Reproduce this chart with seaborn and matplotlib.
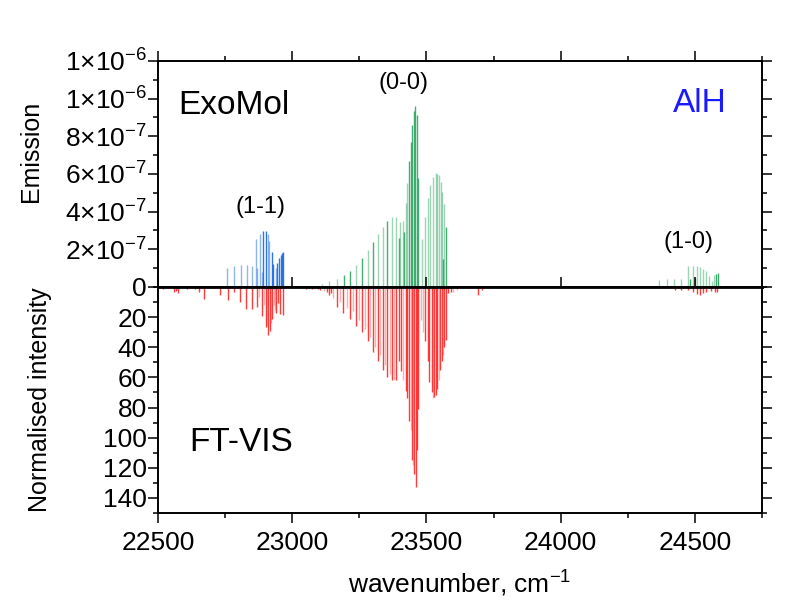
import numpy as np
import matplotlib
matplotlib.use("Agg")
import matplotlib.pyplot as plt
from matplotlib.ticker import MultipleLocator, FixedLocator
import seaborn as sns

sns.set_theme(style="ticks")
plt.rcParams['font.family'] = ['Liberation Sans', 'DejaVu Sans']
plt.rcParams['mathtext.fontset'] = 'custom'
plt.rcParams['mathtext.rm'] = 'Liberation Sans'
plt.rcParams['mathtext.it'] = 'Liberation Sans:italic'
plt.rcParams['axes.edgecolor'] = 'black'
plt.rcParams['text.color'] = 'black'
plt.rcParams['axes.labelcolor'] = 'black'
plt.rcParams['xtick.color'] = 'black'
plt.rcParams['ytick.color'] = 'black'

# ---- ExoMol (emission, top panel) ----
# (1-1) band, blue
b11_light_x = [22756, 22782, 22808, 22830, 22850, 22864, 22870, 22880, 22886, 22908, 22914, 22939]
b11_light_y = [1.0e-7, 1.1e-7, 1.17e-7, 1.17e-7, 1.1e-7, 2.55e-7, 1.0e-7, 2.83e-7, 0.8e-7, 2.8e-7, 2.45e-7, 1.0e-7]
b11_dark_x = [22892, 22902, 22923, 22929, 22944, 22949, 22957, 22961, 22967]
b11_dark_y = [2.97e-7, 2.97e-7, 1.87e-7, 1.2e-7, 1.3e-7, 1.55e-7, 1.7e-7, 1.78e-7, 1.85e-7]

# (0-0) band, green
b00_light_x = [23110, 23138, 23166, 23239, 23281, 23318, 23337, 23371, 23387,
               23403, 23411, 23422, 23428, 23483, 23493, 23504, 23515, 23525,
               23534, 23541, 23547, 23554, 23559, 23565]
b00_light_y = [0.18e-7, 0.3e-7, 0.45e-7, 1.17e-7, 1.95e-7, 2.82e-7, 3.21e-7, 3.73e-7, 3.72e-7,
               3.45e-7, 3.5e-7, 4.47e-7, 5.5e-7, 2.55e-7, 3.7e-7, 4.7e-7, 5.4e-7, 5.86e-7,
               6.04e-7, 6.0e-7, 5.95e-7, 5.56e-7, 5.06e-7, 4.4e-7]
b00_dark_x = [23192, 23216, 23260, 23300, 23354, 23397, 23416, 23436, 23443, 23448,
              23453, 23458, 23463, 23468, 23562, 23572]
b00_dark_y = [0.62e-7, 0.87e-7, 1.52e-7, 2.37e-7, 3.53e-7, 2.6e-7, 2.93e-7, 6.67e-7, 7.7e-7, 8.6e-7,
              9.33e-7, 9.6e-7, 9.15e-7, 5.77e-7, 1.5e-7, 3.2e-7]

# (1-0) band, green
b10_light_x = [24366, 24396, 24424, 24449, 24475, 24494, 24508, 24519, 24530, 24541, 24551, 24563, 24573]
b10_light_y = [3.9e-8, 4.4e-8, 4.4e-8, 4.2e-8, 1.1e-7, 1.13e-7, 1.13e-7, 1.08e-7, 9.8e-8, 8.3e-8, 6.0e-8, 3.4e-8, 6.5e-8]
b10_dark_x = [24482, 24499, 24578, 24585]
b10_dark_y = [4.0e-8, 5.0e-8, 7.0e-8, 7.5e-8]

# ---- FT-VIS (normalised intensity, bottom panel) ----
ft_bright_x = [22520, 22561, 22566, 22573, 22609, 22637, 22653, 22672, 22731, 22762,
               22783, 22806, 22829, 22849, 22870, 22886, 22902, 22911, 22917, 22926,
               22941, 22947, 22956, 22964,
               23030, 23050, 23075, 23095, 23105, 23130, 23145,
               23138, 23165, 23191, 23216, 23238, 23260, 23281, 23300, 23319, 23338,
               23354, 23371, 23388, 23398, 23407, 23422, 23428, 23436, 23448, 23454,
               23460, 23466, 23470, 23494, 23504, 23510, 23519, 23528, 23535, 23541,
               23550, 23558, 23565, 23572, 23580, 23590, 23691, 23707,
               24086, 24186, 24425, 24450, 24475, 24494, 24508, 24518, 24530, 24543,
               24560, 24574, 24582]
ft_bright_y = [1, 3, 2.5, 4, 1.5, 1, 3.4, 7.8, 5, 8.5,
               3.3, 10, 14.5, 14.5, 13, 19, 26.7, 32, 29, 21,
               17, 10.5, 17.8, 18.5,
               0.8, 1, 1.2, 1.5, 2, 3, 4,
               5, 13, 17, 21, 26, 30, 36, 43, 49, 55,
               60, 62, 62, 49, 56, 69, 74, 89, 115, 124,
               133, 108, 81, 36, 49, 63, 70, 73, 72, 68,
               55, 49, 40, 35, 4, 3, 5, 2,
               0.5, 0.6, 2, 2.2, 2.2, 3.3, 4.4, 5, 4, 3,
               2.5, 3, 3]
ft_pale_x = [22877, 22894, 22906, 22921, 22933, 22937,
             23120, 23152, 23178, 23203, 23226, 23248, 23271, 23289, 23309, 23328,
             23345, 23363, 23379, 23414, 23441, 23451, 23481, 23488, 23524, 23546,
             23561, 23600, 23615]
ft_pale_y = [6.5, 12, 25, 24, 12, 15,
             2.5, 7, 10, 14, 16, 22, 28, 33, 40, 45,
             52, 58, 62, 62, 95, 118, 22, 30, 74, 62,
             45, 3, 2]

emis_ticks = [0, 2e-7, 4e-7, 6e-7, 8e-7, 1e-6, 1.2e-6]
emis_labels = ['0', '2×10$^{-7}$', '4×10$^{-7}$', '6×10$^{-7}$', '8×10$^{-7}$',
               '1×10$^{-6}$', '1×10$^{-6}$']
norm_ticks = [20, 40, 60, 80, 100, 120, 140]
wn_ticks = [22500, 23000, 23500, 24000, 24500]

blue = '#1f6fe0'
green = '#25a05a'
red = '#ff1a1a'

fig = plt.figure(figsize=(8.06, 6.03), dpi=100)
W, H = 806, 603
ax_top = fig.add_axes([158 / W, 1 - 287 / H, 604 / W, 226 / H])
ax_bot = fig.add_axes([158 / W, 1 - 513 / H, 604 / W, 226 / H], sharex=ax_top)

lw = 1.0
ax_top.vlines(b11_light_x, 0, b11_light_y, color=blue, alpha=0.5, lw=lw)
ax_top.vlines(b11_dark_x, 0, b11_dark_y, color=blue, alpha=0.95, lw=lw)
ax_top.vlines(b00_light_x, 0, b00_light_y, color=green, alpha=0.45, lw=lw)
ax_top.vlines(b00_dark_x, 0, b00_dark_y, color=green, alpha=0.85, lw=lw)
ax_top.vlines(b10_light_x, 0, b10_light_y, color=green, alpha=0.45, lw=lw)
ax_top.vlines(b10_dark_x, 0, b10_dark_y, color=green, alpha=0.9, lw=lw)

ax_bot.vlines(ft_pale_x, 0, ft_pale_y, color=red, alpha=0.35, lw=lw)
ax_bot.vlines(ft_bright_x, 0, ft_bright_y, color=red, alpha=0.85, lw=lw)

ax_top.set_xlim(22500, 24750)
ax_top.set_ylim(0, 1.2e-6)
ax_bot.set_ylim(150, 0)

ax_top.xaxis.set_major_locator(FixedLocator(wn_ticks))
ax_top.xaxis.set_minor_locator(MultipleLocator(250))
ax_top.yaxis.set_major_locator(FixedLocator(emis_ticks))
ax_top.set_yticklabels(emis_labels)
ax_top.yaxis.set_minor_locator(MultipleLocator(1e-7))
ax_bot.yaxis.set_major_locator(FixedLocator(norm_ticks))
ax_bot.yaxis.set_minor_locator(MultipleLocator(10))

for ax in (ax_top, ax_bot):
    for s in ax.spines.values():
        s.set_visible(True)
        s.set_linewidth(1.4)
    ax.tick_params(which='major', direction='out', length=7, width=1.1, labelsize=19, pad=1)
    ax.tick_params(which='minor', direction='out', length=3.5, width=1.1)
    ax.tick_params(axis='y', which='both', left=True, right=True)
    ax.grid(False)

ax_top.tick_params(axis='x', which='both', top=True, bottom=True, labelbottom=False)
ax_bot.tick_params(axis='x', which='major', top=True, bottom=True, pad=6)
ax_bot.tick_params(axis='x', which='minor', top=False, bottom=True)
ax_top.spines['bottom'].set_linewidth(2.0)
ax_bot.spines['top'].set_linewidth(2.0)

ax_top.set_ylabel('Emission', fontsize=18)
ax_top.yaxis.set_label_coords(-0.19, 0.6)
ax_bot.set_ylabel('Normalised intensity', fontsize=18)
ax_bot.yaxis.set_label_coords(-0.175, 0.5)
ax_bot.set_xlabel('wavenumber, cm$^{-1}$', fontsize=19, labelpad=10)

ax_top.text(22575, 9.66e-7, 'ExoMol', fontsize=24, ha='left', va='center')
ax_top.text(24620, 9.75e-7, 'AlH', fontsize=24, ha='right', va='center', color='#1a1aff')
ax_top.text(23414, 1.083e-6, '(0-0)', fontsize=17, ha='center', va='center')
ax_top.text(22882, 4.25e-7, '(1-1)', fontsize=17, ha='center', va='center')
ax_top.text(24477, 2.39e-7, '(1-0)', fontsize=17, ha='center', va='center')
ax_bot.text(22616, 103, 'FT-VIS', fontsize=24, ha='left', va='center')

fig.savefig('out.png', dpi=100)
